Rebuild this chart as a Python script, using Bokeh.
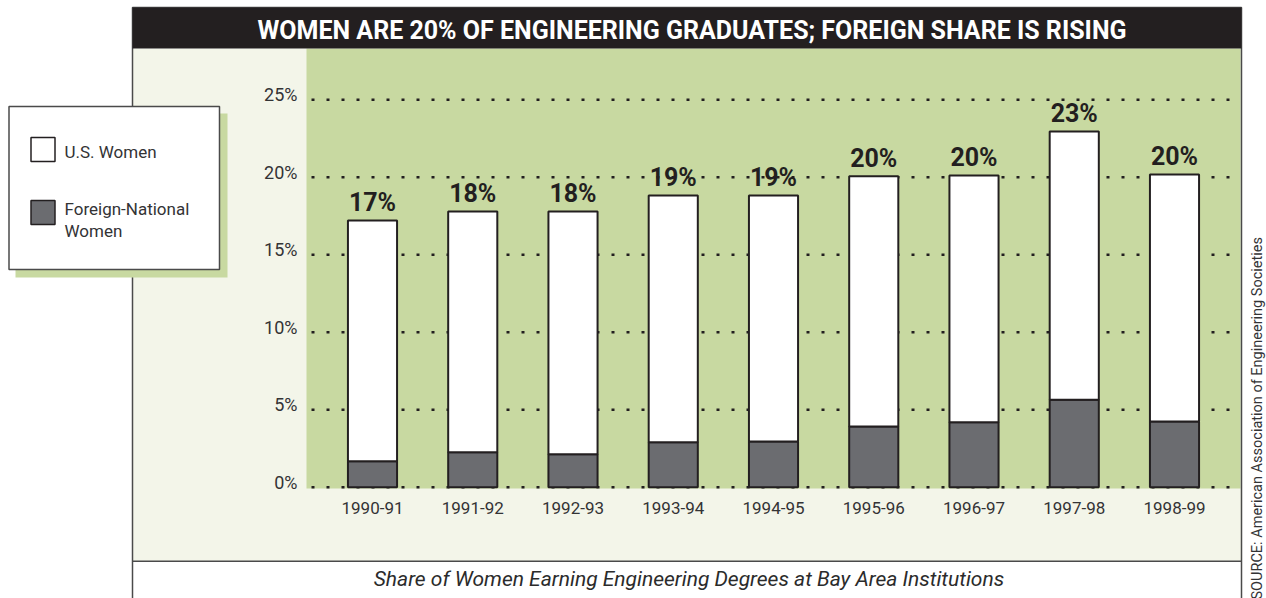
import math
from bokeh.plotting import figure
from bokeh.models import (Range1d, LinearAxis, FixedTicker, ColumnDataSource)
from bokeh.core.properties import value
from bokeh.embed import file_html
from bokeh.resources import INLINE

# ---------------- data ----------------
years = ["1990-91", "1991-92", "1992-93", "1993-94", "1994-95",
         "1995-96", "1996-97", "1997-98", "1998-99"]
foreign_share = [1.68, 2.26, 2.14, 2.91, 2.95, 3.92, 4.20, 5.65, 4.25]
total_share = [17.21, 17.79, 17.79, 18.83, 18.83, 20.07, 20.12, 22.95, 20.18]
total_labels = ["17%", "18%", "18%", "19%", "19%", "20%", "20%", "23%", "20%"]
y_ticks = [0, 5, 10, 15, 20, 25]
y_tick_labels = ["0%", "5%", "10%", "15%", "20%", "25%"]

title_text = "WOMEN ARE 20% OF ENGINEERING GRADUATES; FOREIGN SHARE IS RISING"
subtitle_text = "Share of Women Earning Engineering Degrees at Bay Area Institutions"
source_text = "SOURCE: American Association of Engineering Societies"
legend_us = "U.S. Women"
legend_foreign = ["Foreign-National", "Women"]

# ---------------- style / layout ----------------
FONT = "Roboto"
GREEN = "#c8d9a1"
LIGHT = "#f3f5e9"
DARK = "#231f20"
GRAY = "#6b6c70"
TEXT = "#333335"
FRAME_LINE = "#4a4a4a"

W, H = 1266, 598
# chart panel (green) in page pixels
GL, GR, GT, GB = 306, 1240, 48, 488
X0_PX, X_STEP = 372.0, 100.25     # centre of first bar, bar spacing (px)
Y0_PX, Y_STEP = 486.8, 15.5       # 0% baseline, px per percentage point
LABEL_RAISE = 5                   # y tick labels sit a little above their lines

p = figure(width=W, height=H,
           x_range=Range1d(0, W), y_range=Range1d(H, 0),
           x_axis_location=None, y_axis_location=None,
           output_backend="svg", toolbar_location=None,
           min_border=0, min_border_left=0, min_border_right=0,
           min_border_top=0, min_border_bottom=0)
p.title.visible = False
p.outline_line_color = None
p.background_fill_color = "white"
p.border_fill_color = "white"
p.xgrid.visible = False
p.ygrid.visible = False

# data ranges mapped onto the page
by0, by1 = (Y0_PX - H) / Y_STEP, Y0_PX / Y_STEP
d = LABEL_RAISE / Y_STEP
p.extra_x_ranges = {"bx": Range1d((0 - X0_PX) / X_STEP, (W - X0_PX) / X_STEP)}
p.extra_y_ranges = {"by": Range1d(by0, by1), "by_lbl": Range1d(by0 - d, by1 - d)}
gx0 = (GL - X0_PX) / X_STEP
gx1 = (GR - X0_PX) / X_STEP

# ---------------- background panels ----------------
p.quad(left=[132], right=[1241], top=[GT], bottom=[560.5],
       fill_color=LIGHT, line_color=None)
p.quad(left=[GL], right=[GR], top=[GT], bottom=[GB],
       fill_color=GREEN, line_color=None)

# dotted grid lines
p.segment(x0=gx0, x1=gx1, y0=y_ticks, y1=y_ticks,
          x_range_name="bx", y_range_name="by",
          line_color=DARK, line_width=2.5, line_dash="3 12",
          line_dash_offset=10)

# outer frame and separator
p.quad(left=[132], right=[1241], top=[7], bottom=[640],
       fill_alpha=0, line_color=FRAME_LINE, line_width=1.5)
p.quad(left=[132], right=[1241], top=[560], bottom=[561.5],
       fill_color=FRAME_LINE, line_color=None)

# title bar
p.quad(left=[132], right=[1241], top=[7], bottom=[48],
       fill_color=DARK, line_color=None)
p.text(x=[691.5], y=[30], text=[title_text], text_font=value(FONT),
       text_font_style="bold", text_font_size=value("25px"),
       text_color="white", text_align="center", text_baseline="alphabetic")

# ---------------- bars ----------------
src = ColumnDataSource(dict(x=list(range(len(years))), foreign=foreign_share,
                            total=total_share, label=total_labels))
p.vbar(x="x", bottom=0, top="foreign", width=0.49, source=src,
       x_range_name="bx", y_range_name="by",
       fill_color=GRAY, line_color=DARK, line_width=2)
p.vbar(x="x", bottom="foreign", top="total", width=0.49, source=src,
       x_range_name="bx", y_range_name="by",
       fill_color="white", line_color=DARK, line_width=2)
p.text(x="x", y="total", text="label", source=src,
       x_range_name="bx", y_range_name="by",
       text_font=value(FONT), text_font_style="bold",
       text_font_size=value("25px"), text_color=DARK,
       text_align="center", text_baseline="alphabetic", y_offset=-18)

# ---------------- axes ----------------
yaxis = LinearAxis(y_range_name="by_lbl", fixed_location=GL,
                   ticker=FixedTicker(ticks=y_ticks),
                   major_label_overrides={t: l for t, l in zip(y_ticks, y_tick_labels)})
xaxis = LinearAxis(x_range_name="bx", fixed_location=GB,
                   ticker=FixedTicker(ticks=list(range(len(years)))),
                   major_label_overrides={i: y for i, y in enumerate(years)})
for ax in (xaxis, yaxis):
    ax.axis_line_color = None
    ax.major_tick_line_color = None
    ax.minor_tick_line_color = None
    ax.major_tick_out = 0
    ax.major_tick_in = 0
    ax.minor_tick_out = 0
    ax.minor_tick_in = 0
    ax.major_label_text_font = FONT
    ax.major_label_text_color = TEXT
yaxis.major_label_text_font_size = "18px"
xaxis.major_label_text_font_size = "17px"
yaxis.major_label_standoff = 9
xaxis.major_label_standoff = 13
p.add_layout(yaxis, "left")
p.add_layout(xaxis, "below")

# ---------------- legend ----------------
p.quad(left=[15], right=[227], top=[113], bottom=[277],
       fill_color=GREEN, line_color=None)
p.quad(left=[8.5], right=[219], top=[106], bottom=[269],
       fill_color="white", line_color=FRAME_LINE, line_width=1.5)
p.quad(left=[30.5], right=[54.5], top=[137], bottom=[161],
       fill_color="white", line_color=DARK, line_width=1.5)
p.quad(left=[30.5], right=[54.5], top=[200], bottom=[224],
       fill_color=GRAY, line_color=DARK, line_width=1.5)
p.text(x=[64, 64, 64], y=[151, 208, 230],
       text=[legend_us, legend_foreign[0], legend_foreign[1]],
       text_font=value(FONT), text_font_size=value("17px"),
       text_color=TEXT, text_align="left", text_baseline="alphabetic")

# ---------------- subtitle and source ----------------
p.text(x=[688.5], y=[578], text=[subtitle_text], text_font=value(FONT),
       text_font_style="italic", text_font_size=value("21px"),
       text_color="#2b2b2b", text_align="center", text_baseline="alphabetic")
p.text(x=[1257], y=[599], text=[source_text], text_font=value(FONT),
       text_font_size=value("14.5px"), text_color=TEXT, angle=math.pi / 2,
       text_align="left", text_baseline="alphabetic")

open("out.html", "w").write(file_html(p, INLINE))
